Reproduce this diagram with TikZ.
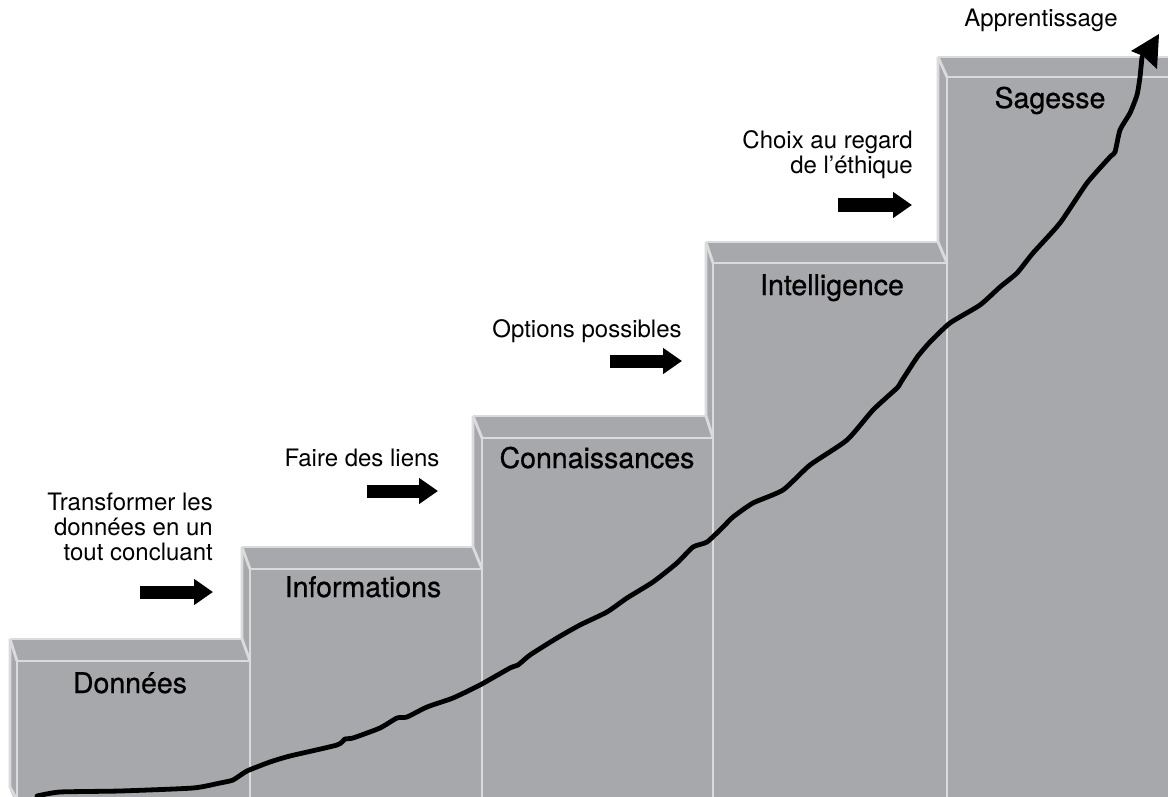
\documentclass[tikz,border=0pt]{standalone}
\usepackage{fontspec}
\setmainfont{TeX Gyre Heros}
\newfontfamily\labelfont{TeX Gyre Heros}[FakeBold=0.8]
\usetikzlibrary{arrows.meta}
\definecolor{stepfill}{HTML}{A7A8AB}
\definecolor{stepedge}{HTML}{DADBDD}
\tikzset{
  facefill/.style={fill=stepfill},
  edge/.style={draw=stepedge, line width=2.8pt, line join=miter},
  steplabel/.style={font=\labelfont\fontsize{28.5}{30}\selectfont, anchor=base, inner sep=0pt},
  annot/.style={font=\fontsize{24}{25}\selectfont, inner sep=0pt},
  blockarrow/.style={line width=13pt, -{Triangle[length=19pt,width=25pt]}},
  growth/.style={line width=4.8pt, line join=round, line cap=round},
}
% #1 back-left x, #2 front-left x, #3 back-top y, #4 front-top y, #5 next back-left x, #6 next front-left x
\newcommand{\drawstepbox}[6]{%
  \fill[facefill] (#1,#3) -- (#2,#4) -- (#2,805) -- (#1,790) -- cycle;
  \fill[facefill] (#1,#3) -- (#5,#3) -- (#6,#4) -- (#2,#4) -- cycle;
  \fill[facefill] (#2,#4) rectangle (#6,805);
  \draw[edge] (#1,#3) -- (#1,787) -- (#2,800);
  \draw[edge] (#1,#3) -- (#5,#3);
  \draw[edge] (#1,#3) -- (#2,#4);
  \draw[edge] (#5,#3) -- (#6,#4);
  \draw[edge] (#2,#4) -- (#6,#4);
  \draw[edge] (#2,#4) -- (#2,805);
  \draw[edge] (#6,#4) -- (#6,805);
}
\begin{document}
\begin{tikzpicture}[x=1pt,y=-1pt]
\useasboundingbox (0,0) rectangle (1168,797);
\clip (0,0) rectangle (1168,797);
% steps, drawn from back (right) to front (left)
\drawstepbox{938}{947}{57}{77}{1175}{1185}
\drawstepbox{706}{713}{242}{263}{938}{947}
\drawstepbox{473}{482}{416}{438}{706}{713}
\drawstepbox{242}{250}{547}{569}{473}{482}
\drawstepbox{10}{17}{639}{661}{242}{250}
% step labels
\node[steplabel] (donnees) at (130,693) {Données};
\node[steplabel] (informations) at (363,597) {Informations};
\node[steplabel] (connaissances) at (597,468) {Connaissances};
\node[steplabel] (intelligence) at (832,295) {Intelligence};
\node[steplabel] (sagesse) at (1050,108) {Sagesse};
% annotations
\node[annot, anchor=base east, align=right] (t1) at (213,560) {Transformer les\\données en un\\tout concluant};
\node[annot, anchor=base] (t2) at (362,466) {Faire des liens};
\node[annot, anchor=base] (t3) at (587,337) {Options possibles};
\node[annot, anchor=base east, align=right] (t4) at (913,174) {Choix au regard\\de l’éthique};
\node[annot, anchor=base] (t5) at (1041,27) {Apprentissage};
% block arrows
\coordinate (a1s) at (140,592); \coordinate (a1e) at (213,592);
\coordinate (a2s) at (367,491); \coordinate (a2e) at (438,491);
\coordinate (a3s) at (610,361); \coordinate (a3e) at (682,361);
\coordinate (a4s) at (838,205); \coordinate (a4e) at (912,205);
\draw[blockarrow] (a1s) -- (a1e);
\draw[blockarrow] (a2s) -- (a2e);
\draw[blockarrow] (a3s) -- (a3e);
\draw[blockarrow] (a4s) -- (a4e);
% growth curve
\draw[growth] plot[smooth, tension=0.35] coordinates {
(37,796) (60,792) (120,791) (193,788) (220,783) (233,780) (247,771) (270,762)
(290,756) (337,745) (345,739) (353,738) (380,728) (397,718) (407,717) (427,707)
(453,698) (480,685) (510,668) (518,665) (530,655) (557,638) (580,625) (607,612)
(627,598) (653,582) (677,563) (693,547) (707,542) (723,527) (733,517) (753,503)
(783,490) (810,465) (847,440) (873,410) (897,388) (901,382) (910,368) (918,356)
(930,342) (950,323) (980,305) (1000,287) (1017,273) (1033,253) (1060,223) (1087,183)
(1110,157) (1115,152) (1120,130) (1130,113) (1137,95) (1140,77) (1142,57)};
\coordinate (tipA) at (1159,34);
\coordinate (tipB) at (1131,51);
\coordinate (tipN) at (1143,56);
\coordinate (tipC) at (1157,69);
\fill (tipA) -- (tipB) -- (tipN) -- (tipC) -- cycle;
\end{tikzpicture}
\end{document}
